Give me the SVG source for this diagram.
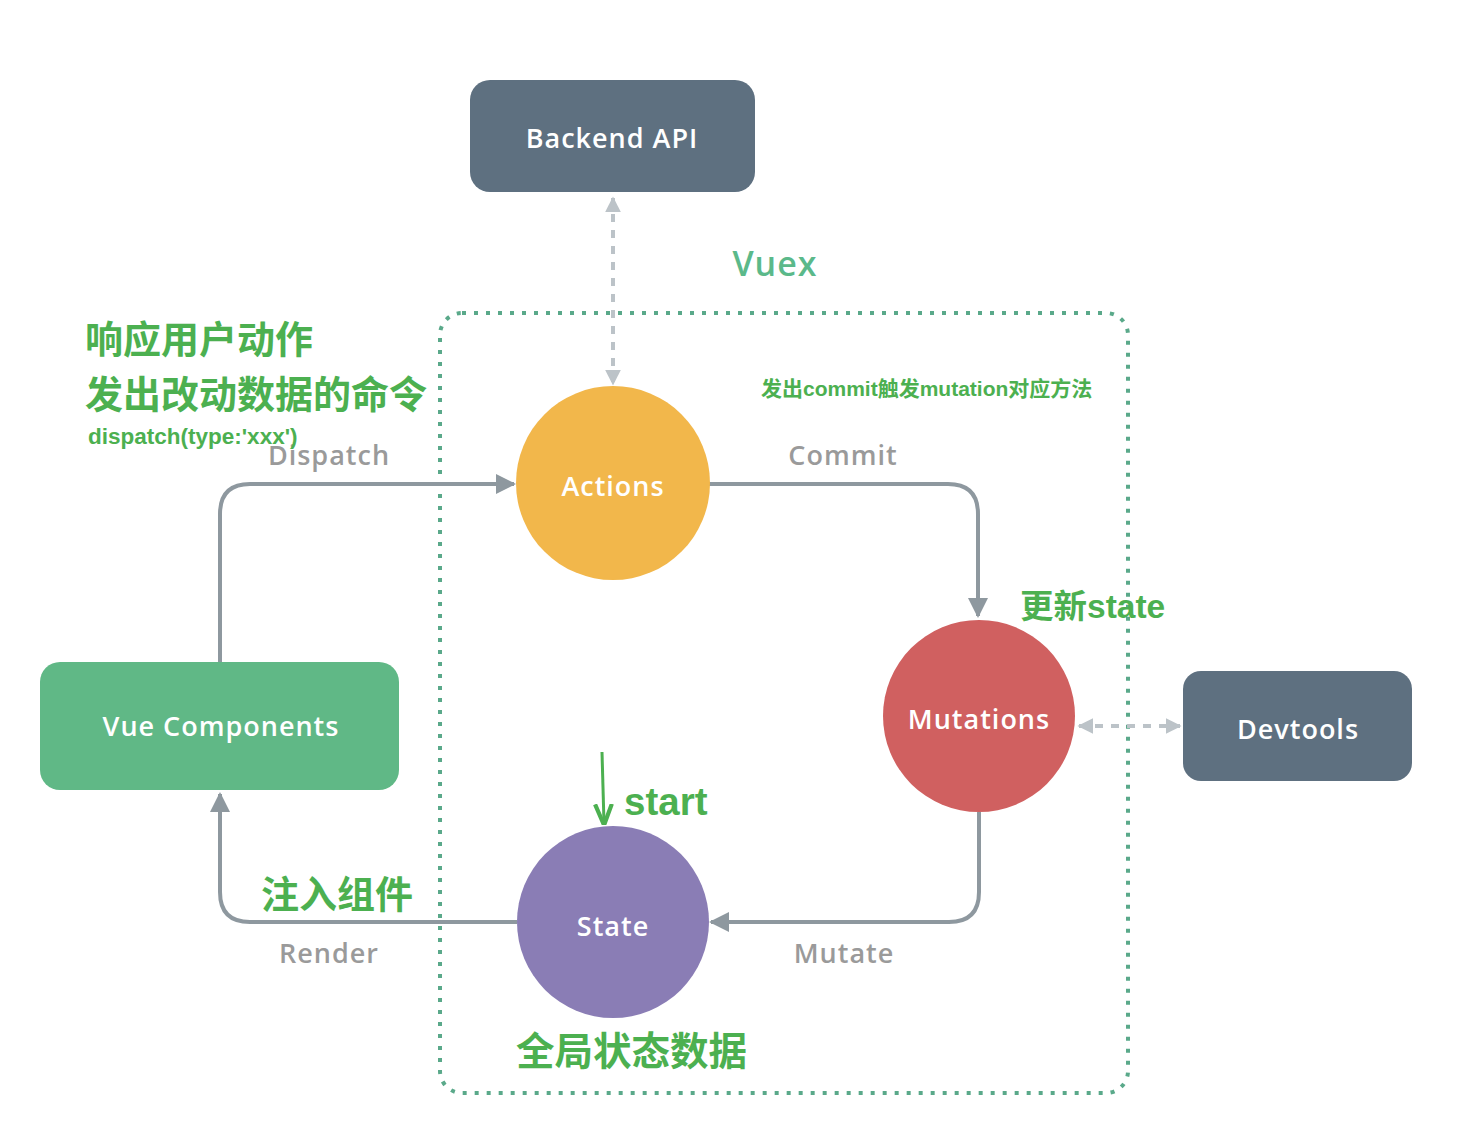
<svg xmlns="http://www.w3.org/2000/svg" width="1468" height="1142" viewBox="0 0 1468 1142">
<style>
.nt{font-family:"Open Sans","Liberation Sans",sans-serif;font-size:27px;font-weight:600;fill:#ffffff;text-anchor:middle;dominant-baseline:central;letter-spacing:1px}
.lb{font-family:"Open Sans","Liberation Sans",sans-serif;font-size:27px;font-weight:600;fill:#9a9a9a;text-anchor:middle;letter-spacing:1px}
.gn{font-family:"Liberation Sans","Noto Sans CJK SC",sans-serif;font-weight:bold;fill:#4cb050}
.cn{fill:none;stroke:#8e989f;stroke-width:4}
.dt{fill:none;stroke:#bcc3c8;stroke-width:4;stroke-dasharray:8 8}
</style>
<defs>
<marker id="ah" viewBox="0 0 10 10" refX="9" refY="5" markerWidth="5" markerHeight="5" orient="auto-start-reverse" markerUnits="strokeWidth"><path d="M0 0L10 5L0 10z" fill="#8e989f"/></marker>
<marker id="ahl" viewBox="0 0 10 10" refX="9" refY="5" markerWidth="4" markerHeight="4" orient="auto-start-reverse" markerUnits="strokeWidth"><path d="M0 0L10 5L0 10z" fill="#bcc3c8"/></marker>
<marker id="ahg" viewBox="0 0 10 10" refX="9" refY="5" markerWidth="7" markerHeight="7" orient="auto" markerUnits="strokeWidth"><path d="M0 1L10 5L0 9" fill="none" stroke="#4cb050" stroke-width="2"/></marker>
</defs>
<rect width="1468" height="1142" fill="#ffffff"/>
<g id="vuex-box">
<rect x="440" y="313" width="688" height="780" rx="22" fill="none" stroke="#5aa98a" stroke-width="4" stroke-dasharray="4 8"/>
<text x="775" y="276" font-family="Open Sans,Liberation Sans,sans-serif" font-size="34" font-weight="600" fill="#5bb98a" text-anchor="middle" letter-spacing="1">Vuex</text>
</g>
<g id="connectors">
<path class="cn" d="M220 662V514Q220 484 250 484H514" marker-end="url(#ah)"/>
<path class="cn" d="M709 484H948Q978 484 978 514V616" marker-end="url(#ah)"/>
<path class="cn" d="M979 812V892Q979 922 949 922H711" marker-end="url(#ah)"/>
<path class="cn" d="M517 922H250Q220 922 220 892V794" marker-end="url(#ah)"/>
<path class="dt" d="M613 198V384" marker-start="url(#ahl)" marker-end="url(#ahl)"/>
<path class="dt" d="M1079 726H1180" marker-start="url(#ahl)" marker-end="url(#ahl)"/>
<path d="M602 752L604 823" stroke="#4cb050" stroke-width="3" fill="none" marker-end="url(#ahg)"/>
<text class="lb" x="329" y="465">Dispatch</text>
<text class="lb" x="843" y="465">Commit</text>
<text class="lb" x="844" y="963">Mutate</text>
<text class="lb" x="329" y="963">Render</text>
</g>
<g id="backend-api">
<rect x="470" y="80" width="285" height="112" rx="20" fill="#5e7080"/>
<text class="nt" x="612" y="137">Backend API</text>
</g>
<g id="actions">
<circle cx="613" cy="483" r="97" fill="#f2b74b"/>
<text class="nt" x="613" y="485">Actions</text>
</g>
<g id="mutations">
<circle cx="979" cy="716" r="96" fill="#d06060"/>
<text class="nt" x="979" y="718">Mutations</text>
</g>
<g id="state">
<circle cx="613" cy="922" r="96" fill="#8a7db5"/>
<text class="nt" x="613" y="925">State</text>
</g>
<g id="vue-components">
<rect x="40" y="662" width="359" height="128" rx="20" fill="#60b886"/>
<text class="nt" x="221" y="725">Vue Components</text>
</g>
<g id="devtools">
<rect x="1183" y="671" width="229" height="110" rx="18" fill="#5e7080"/>
<text class="nt" x="1298" y="728">Devtools</text>
</g>
<g id="annotations">
<text class="gn" x="85" y="353" font-size="38">响应用户动作</text>
<text class="gn" x="85" y="408" font-size="38">发出改动数据的命令</text>
<text class="gn" x="88" y="444" font-size="22.5">dispatch(type:'xxx')</text>
<text class="gn" x="761" y="396" font-size="21">发出commit触发mutation对应方法</text>
<text class="gn" x="1020" y="618" font-size="33.5">更新state</text>
<text class="gn" x="624" y="815" font-size="38.5">start</text>
<text class="gn" x="261" y="908" font-size="38">注入组件</text>
<text class="gn" x="516" y="1065" font-size="38.5">全局状态数据</text>
</g>
</svg>
